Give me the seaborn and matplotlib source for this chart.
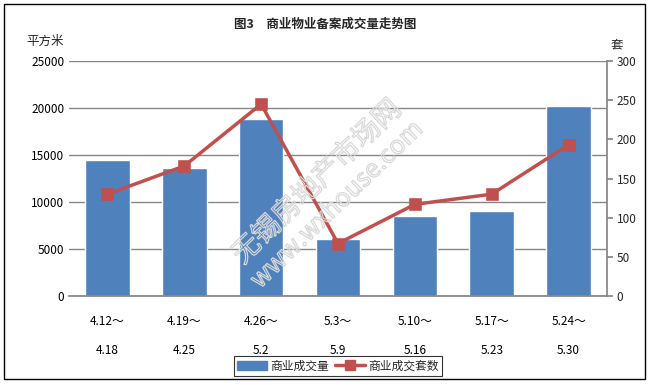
import matplotlib.pyplot as plt
import matplotlib.patheffects as pe
import seaborn as sns
import pandas as pd
from matplotlib.patches import Rectangle

weeks_start = ['4.12～', '4.19～', '4.26～', '5.3～', '5.10～', '5.17～', '5.24～']
weeks_end = ['4.18', '4.25', '5.2', '5.9', '5.16', '5.23', '5.30']
area = [14450, 13600, 18800, 6080, 8520, 9050, 20200]     # 商业成交量 (平方米)
units = [130, 166, 245, 67, 117, 130, 193]                  # 商业成交套数 (套)

labels = [s + '\n\n' + e for s, e in zip(weeks_start, weeks_end)]
df = pd.DataFrame({'week': labels, 'area': area, 'units': units})

sns.set_theme(style='white')
plt.rcParams['font.family'] = ['Noto Sans CJK SC', 'DejaVu Sans']

BLUE = '#4F81BD'
RED = '#C0504D'

fig = plt.figure(figsize=(6.5, 3.85), dpi=100)
ax = fig.add_axes([69 / 650, 1 - 296 / 385, 538 / 650, 235 / 385])

sns.barplot(data=df, x='week', y='area', color=BLUE, saturation=1, width=0.58, ax=ax, zorder=2)
ax.set_ylim(0, 25000)
ax.set_yticks(range(0, 25001, 5000))
ax.yaxis.grid(True, color='#868686', linewidth=1)
ax.set_axisbelow(True)
ax.set_xlabel('')
ax.set_ylabel('')
for s in ['left', 'top', 'right']:
    ax.spines[s].set_visible(False)
ax.spines['bottom'].set_color('#868686')
ax.tick_params(axis='both', labelsize=8.5, length=0, colors='black')
ax.tick_params(axis='x', pad=14)
for t in ax.get_xticklabels():
    t.set_linespacing(1.15)

ax2 = ax.twinx()
sns.pointplot(data=df, x='week', y='units', color=RED, markers='s', ax=ax2,
              markersize=7, linewidth=2.5)
ax2.set_ylim(0, 300)
ax2.set_yticks(range(0, 301, 50))
ax2.set_ylabel('')
for s in ['left', 'top', 'bottom']:
    ax2.spines[s].set_visible(False)
ax2.spines['right'].set_color('#868686')
ax2.tick_params(axis='y', labelsize=8.5, length=4, color='#868686', direction='out', pad=3)

fig.text(0.5, 1 - 24 / 385, '图3　商业物业备案成交量走势图', ha='center', va='center',
         fontsize=9, fontweight='bold')
fig.text(45 / 650, 1 - 41 / 385, '平方米', ha='center', va='center', fontsize=9)
fig.text(617 / 650, 1 - 45 / 385, '套', ha='center', va='center', fontsize=9)

# hollow watermark
outline = [pe.Stroke(linewidth=0.9, foreground='#d8d8d8')]
fig.text(317 / 650, 1 - 182 / 385, '无锡房地产市场网', ha='center', va='center', fontsize=20,
         rotation=44, color='none', path_effects=outline, zorder=5)
fig.text(337 / 650, 1 - 205 / 385, 'www.wxhouse.com', ha='center', va='center', fontsize=18,
         rotation=44, color='none', path_effects=outline, zorder=5)

handles = [Rectangle((0, 0), 1, 1, color=BLUE),
           plt.Line2D([], [], color=RED, marker='s', markersize=7, linewidth=2.5)]
leg = fig.legend(handles, ['商业成交量', '商业成交套数'], loc='center', ncol=2,
                 bbox_to_anchor=(338 / 650, 1 - 366 / 385), fontsize=8.5, frameon=True,
                 fancybox=False, edgecolor='black', handlelength=2.5, columnspacing=0.5,
                 handletextpad=0.3, borderpad=0.3)
leg.get_frame().set_linewidth(0.8)

fig.patches.append(Rectangle((4 / 650, 1 - 379 / 385), 641 / 650, 375 / 385,
                             transform=fig.transFigure, fill=False, edgecolor='black',
                             linewidth=1))

fig.savefig('out.png', dpi=100)
